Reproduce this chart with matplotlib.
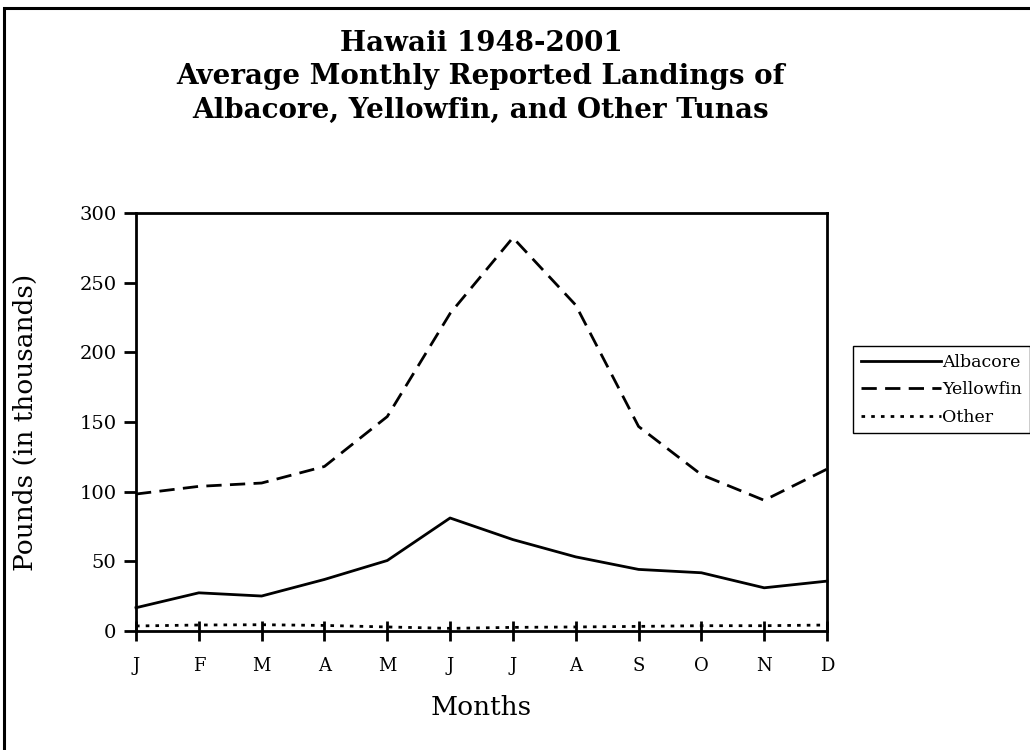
import matplotlib
matplotlib.use("Agg")
import matplotlib.pyplot as plt
from matplotlib.patches import Rectangle

# Monthly averages, 1948-2001 (thousands of pounds)
months = ["J", "F", "M", "A", "M", "J", "J", "A", "S", "O", "N", "D"]
albacore = [16.7, 27.4, 25.1, 37.0, 50.6, 81.1, 65.6, 53.2, 44.2, 41.8, 31.0, 35.8]
yellowfin = [98.3, 103.8, 106.2, 118.1, 153.9, 227.9, 282.3, 233.9, 146.8, 112.2, 93.8, 116.2]
other = [3.6, 4.3, 4.5, 4.0, 2.9, 1.9, 2.6, 2.9, 3.3, 3.8, 3.8, 4.3]
yticks = [0, 50, 100, 150, 200, 250, 300]

plt.rcParams["font.family"] = "DejaVu Serif"

fig = plt.figure(figsize=(10.3, 7.5), dpi=100)

# outer page frame (runs off the right and bottom edges)
fig.patches.append(Rectangle((4 / 1030, -0.05), 1.1, (743 + 37) / 750,
                             transform=fig.transFigure, fill=False,
                             edgecolor="black", lw=2.2, zorder=0))

ax = fig.add_axes([136 / 1030, 119 / 750, 691 / 1030, 418 / 750])

x = list(range(len(months)))
ax.plot(x, albacore, color="black", lw=2, label="Albacore", clip_on=False)
ax.plot(x, yellowfin, color="black", lw=2, dashes=(5.5, 3), label="Yellowfin", clip_on=False)
ax.plot(x, other, color="black", lw=2, dashes=(1.3, 2.2), label="Other", clip_on=False)

ax.set_xlim(0, 11)
ax.set_ylim(0, 300)
ax.set_xticks(x)
ax.set_xticklabels(months)
ax.set_yticks(yticks)
ax.tick_params(axis="x", direction="inout", length=14, width=2, labelsize=13, pad=12)
ax.tick_params(axis="y", direction="out", length=9, width=2, labelsize=14, pad=5)
for s in ax.spines.values():
    s.set_linewidth(2)

ax.set_xlabel("Months", fontsize=19, labelpad=14)
ax.set_ylabel("Pounds (in thousands)", fontsize=19, labelpad=30)

fig.text(481 / 1030, 1 - 77 / 750,
         "Hawaii 1948-2001\nAverage Monthly Reported Landings of\nAlbacore, Yellowfin, and Other Tunas",
         ha="center", va="center", fontsize=20, fontweight="bold", linespacing=1.3)

leg = fig.legend(loc="upper left", bbox_to_anchor=(853 / 1030, 1 - 346 / 750),
                 fontsize=12.5, handlelength=4.6, handletextpad=0.1,
                 labelspacing=0.6, borderpad=0.45, borderaxespad=0,
                 fancybox=False, framealpha=1)
leg.get_frame().set_edgecolor("black")
leg.get_frame().set_linewidth(1)

fig.savefig("out.png", dpi=100)
